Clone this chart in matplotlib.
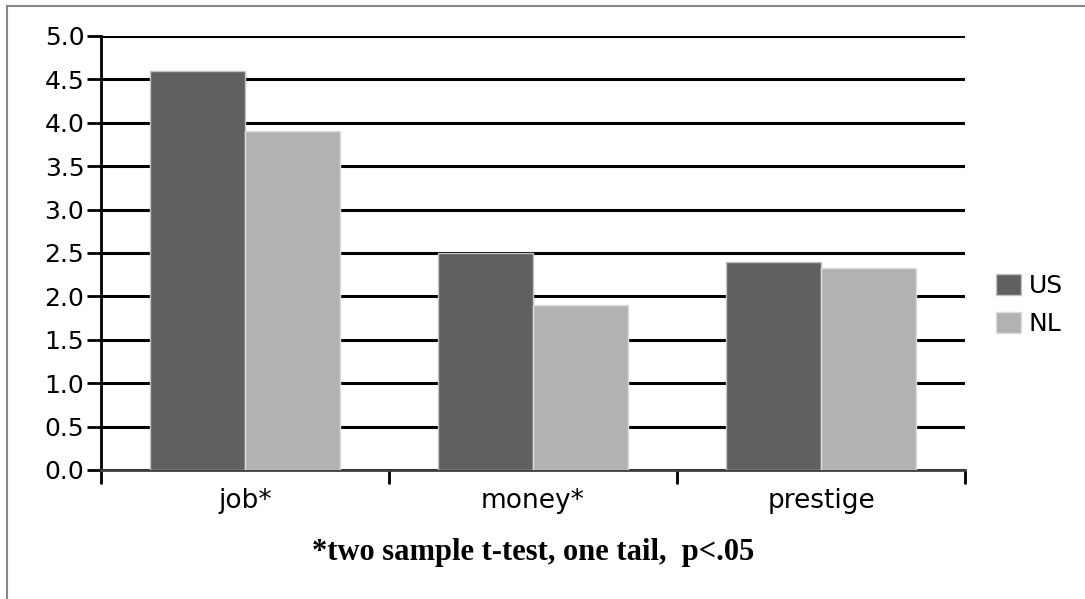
import numpy as np
import matplotlib.pyplot as plt
from matplotlib.patches import Rectangle

categories = ['job*', 'money*', 'prestige']
us_vals = [4.6, 2.5, 2.4]
nl_vals = [3.9, 1.9, 2.33]
yticks = [0.0, 0.5, 1.0, 1.5, 2.0, 2.5, 3.0, 3.5, 4.0, 4.5, 5.0]
note = '*two sample t-test, one tail,  p<.05'

fig = plt.figure(figsize=(10.85, 5.99), dpi=100)
ax = fig.add_axes([0.0931, 0.2154, 0.7963, 0.7245])

x = np.arange(len(categories))
w = 0.33
ax.bar(x - w/2, us_vals, w, color='#606060', edgecolor='#c4c4c4', linewidth=1, label='US', zorder=3)
ax.bar(x + w/2, nl_vals, w, color='#b2b2b2', edgecolor='#dddddd', linewidth=1, label='NL', zorder=3)

ax.set_xlim(-0.5, len(categories) - 0.5)
ax.set_ylim(0, 5)
ax.set_yticks(yticks)
ax.set_yticklabels(['%.1f' % v for v in yticks], fontsize=18)
ax.yaxis.grid(True, color='black', linewidth=2.2, zorder=0)
ax.set_axisbelow(True)

# category ticks sit on the boundaries, labels in the middle
ax.set_xticks(np.arange(len(categories) + 1) - 0.5)
ax.set_xticklabels([])
ax.set_xticks(x, minor=True)
ax.set_xticklabels(categories, minor=True, fontsize=19)
ax.tick_params(axis='x', which='minor', length=0, pad=13)
ax.tick_params(axis='x', which='major', length=10, width=2, direction='out')
ax.tick_params(axis='y', length=10, width=2, direction='out', pad=2)

for s in ['top', 'right']:
    ax.spines[s].set_visible(False)
ax.spines['left'].set_linewidth(2)
ax.spines['bottom'].set_linewidth(2)
ax.spines['bottom'].set_color('#404040')

ax.legend(loc='center left', bbox_to_anchor=(1.01, 0.38), frameon=False,
          fontsize=18, handlelength=1.0, handleheight=0.9, handletextpad=0.3,
          labelspacing=0.55)

fig.text(0.4915, 0.078, note, ha='center', va='center', fontsize=22,
         family='Liberation Serif', weight='bold')

fig.patches.append(Rectangle((0.006, -0.01), 1.1, 0.9996, transform=fig.transFigure,
                             fill=False, edgecolor='#888888', linewidth=1.5))

fig.savefig('out.png', dpi=100)
